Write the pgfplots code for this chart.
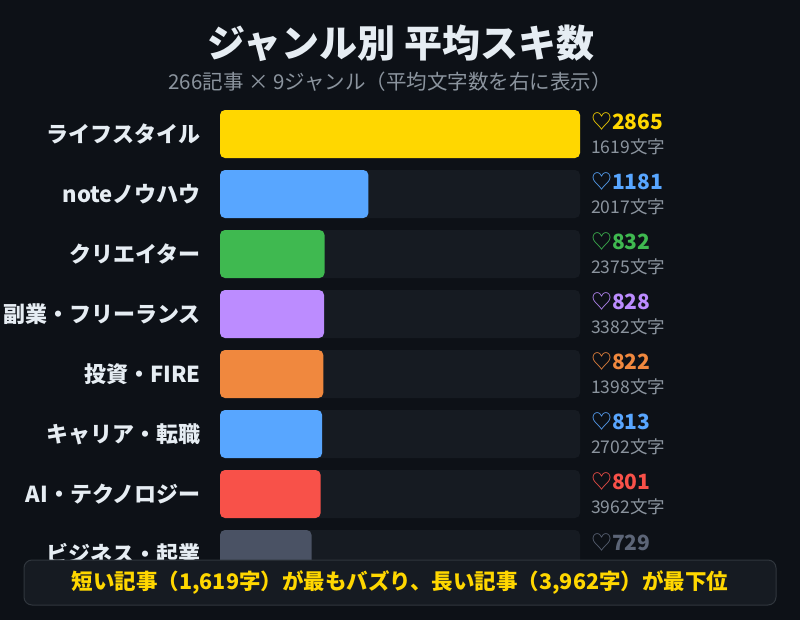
\documentclass[border=0pt]{standalone}
\usepackage{pgfplots}
\pgfplotsset{compat=1.18}
\usepackage{fontspec}
\setmainfont{Noto Sans CJK JP}
\definecolor{bg}{HTML}{0D1117}
\definecolor{track}{HTML}{161B22}
\definecolor{fg}{HTML}{E6EDF3}
\definecolor{sub}{HTML}{8B949E}
\definecolor{cA}{HTML}{FFD700}
\definecolor{cB}{HTML}{58A6FF}
\definecolor{cC}{HTML}{3FB950}
\definecolor{cD}{HTML}{BC8CFF}
\definecolor{cE}{HTML}{F0883E}
\definecolor{cF}{HTML}{58A6FF}
\definecolor{cG}{HTML}{F85149}
\definecolor{cH}{HTML}{4A5264}
\definecolor{cHt}{HTML}{5C6577}
\definecolor{bannerline}{HTML}{30363D}
\newcommand{\vlab}[3]{{\fontsize{21}{23}\selectfont\textcolor{#1}{♡\textbf{#2}}}\\{\fontsize{17.5}{17.5}\selectfont\textcolor{sub}{#3文字}}}
\begin{document}
\begin{tikzpicture}
\fill[bg] (0pt,0pt) rectangle (800pt,-620pt);
\node[text=fg,font=\fontsize{38}{40}\selectfont\bfseries] at (401pt,-43pt) {ジャンル別 平均スキ数};
\node[text=sub,font=\fontsize{20.5}{22}\selectfont] at (390pt,-82pt) {266記事 × 9ジャンル（平均文字数を右に表示）};
\begin{axis}[
  at={(220pt,-100pt)}, anchor=north west,
  scale only axis, width=360pt, height=520pt,
  xmin=0, xmax=2865, ymin=100, ymax=620, y dir=reverse,
  axis line style={draw=none}, major tick length=0pt,
  xtick=\empty,
  ytick={134,194,254,314,374,434,494,554},
  yticklabels={ライフスタイル,noteノウハウ,クリエイター,副業・フリーランス,投資・FIRE,キャリア・転職,AI・テクノロジー,ビジネス・起業},
  yticklabel style={font=\fontsize{22}{24}\selectfont\bfseries, text=fg, inner sep=0pt, xshift=-19pt},
  xbar, bar width=48pt, bar shift=0pt,
  clip=false,
  every axis plot/.append style={draw=none, rounded corners=5pt},
  every node near coord/.append style={anchor=west, xshift=11pt, align=left, inner sep=0pt, font=\fontsize{21}{24}\selectfont},
]
\addplot[fill=track, nodes near coords={\vlab{cA}{2865}{1619}}] coordinates {(2865,134)};
\addplot[fill=track, nodes near coords={\vlab{cB}{1181}{2017}}] coordinates {(2865,194)};
\addplot[fill=track, nodes near coords={\vlab{cC}{832}{2375}}] coordinates {(2865,254)};
\addplot[fill=track, nodes near coords={\vlab{cD}{828}{3382}}] coordinates {(2865,314)};
\addplot[fill=track, nodes near coords={\vlab{cE}{822}{1398}}] coordinates {(2865,374)};
\addplot[fill=track, nodes near coords={\vlab{cF}{813}{2702}}] coordinates {(2865,434)};
\addplot[fill=track, nodes near coords={\vlab{cG}{801}{3962}}] coordinates {(2865,494)};
\addplot[fill=track, nodes near coords={{\fontsize{21}{23}\selectfont\textcolor{cHt}{♡\textbf{729}}}\\{\fontsize{17.5}{17.5}\selectfont\textcolor{sub}{\phantom{0}}}}] coordinates {(2865,554)};
\addplot[fill=cA] coordinates {(2865,134)};
\addplot[fill=cB] coordinates {(1181,194)};
\addplot[fill=cC] coordinates {(832,254)};
\addplot[fill=cD] coordinates {(828,314)};
\addplot[fill=cE] coordinates {(822,374)};
\addplot[fill=cF] coordinates {(813,434)};
\addplot[fill=cG] coordinates {(801,494)};
\addplot[fill=cH] coordinates {(729,554)};
\end{axis}
\draw[fill=track, draw=bannerline, line width=1pt, rounded corners=8pt] (24pt,-560pt) rectangle (776pt,-605pt);
\node[text=cA, font=\fontsize{21.5}{23}\selectfont\bfseries] at (400pt,-582.5pt) {短い記事（1,619字）が最もバズり、長い記事（3,962字）が最下位};
\end{tikzpicture}
\end{document}
